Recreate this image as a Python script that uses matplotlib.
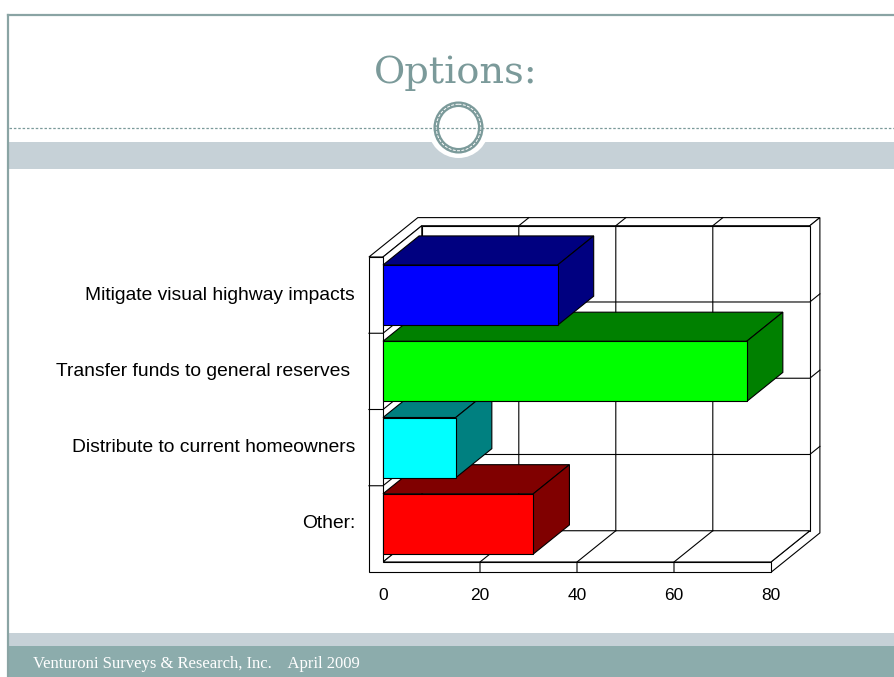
import numpy as np
import matplotlib.pyplot as plt
from matplotlib.patches import Polygon, Ellipse, Circle, Rectangle

# dados do grafico (de baixo para cima)
categorias = ['Other:', 'Distribute to current homeowners',
              'Transfer funds to general reserves ', 'Mitigate visual highway impacts']
valores = [31, 15, 75, 36]
cor_frente = ['#ff0000', '#00ffff', '#00ff00', '#0000ff']
cor_lado = ['#800000', '#008080', '#008000', '#000080']
ticks_x = [0, 20, 40, 60, 80]

titulo = 'Options:'
rodape = 'Venturoni Surveys & Research, Inc.    April 2009'

TEAL = '#7b9a9a'

fig = plt.figure(figsize=(8.95, 6.77), dpi=100)

# fundo do slide, em pixels
bg = fig.add_axes([0, 0, 1, 1], zorder=0)
bg.set_xlim(0, 895)
bg.set_ylim(677, 0)
bg.axis('off')
bg.plot([8, 895], [15, 15], color='#8aa4a4', lw=1.6)
bg.plot([8, 8], [15, 677], color='#8aa4a4', lw=1.6)
bg.add_patch(Rectangle((9, 142), 886, 27, color='#c6d1d7', lw=0))
bg.add_patch(Rectangle((9, 633), 886, 13, color='#c6d1d7', lw=0))
bg.add_patch(Rectangle((9, 646), 886, 31, color='#8cacac', lw=0))
bg.plot([9, 895], [128, 128], color=TEAL, lw=0.9, ls=(0, (2, 1.5)))
bg.add_patch(Circle((458.5, 127.5), 30.5, color='white', lw=0))
bg.add_patch(Ellipse((458.5, 127.5), 44.5, 46.5, fill=False, ec=TEAL, lw=4))
bg.add_patch(Ellipse((458.5, 127.5), 44.5, 46.5, fill=False, ec='white', lw=0.7,
                     ls=(0, (3, 1.5))))
bg.text(456, 83, titulo, ha='center', va='baseline', fontsize=27.5,
        family='DejaVu Serif', color=TEAL)
bg.text(33, 664, rodape, ha='left', va='center', fontsize=12,
        family='Liberation Serif', color='white')

# area do grafico: x = valor, y = categoria
ax = fig.add_axes([383/895, (677-562)/677, 388/895, 305/677], zorder=1)
ax.set_xlim(0, 80)
ax.set_ylim(0, 4)
ax.axis('off')

PX, PY = 8.0, 0.41      # deslocamento da profundidade
W, F, T = 2.9, 0.135, 0.26  # espessura das paredes
ZB = 0.93               # profundidade das barras
XM, YM = 80, 4


def p(x, y, z):
    return (x + PX*z, y + PY*z)


def face(pts, cor, z=1):
    ax.add_patch(Polygon([p(*q) for q in pts], closed=True, facecolor=cor,
                         edgecolor='black', lw=0.8, zorder=z, clip_on=False))


def linha(pts, z=2):
    xy = np.array([p(*q) for q in pts])
    ax.plot(xy[:, 0], xy[:, 1], color='black', lw=0.8, zorder=z, clip_on=False)


# paredes
face([(-W, YM, 0), (0, YM, 0), (0, YM, 1), (XM, YM, 1), (XM, YM, 1+T), (-W, YM, 1+T)], 'white')
face([(XM, -F, 0), (XM, 0, 0), (XM, 0, 1), (XM, YM, 1), (XM, YM, 1+T), (XM, -F, 1+T)], 'white')
face([(0, 0, 1), (XM, 0, 1), (XM, YM, 1), (0, YM, 1)], 'white')
face([(0, 0, 0), (0, 0, 1), (0, YM, 1), (0, YM, 0)], 'white')
face([(0, 0, 0), (XM, 0, 0), (XM, 0, 1), (0, 0, 1)], 'white')
face([(-W, -F, 0), (XM, -F, 0), (XM, 0, 0), (0, 0, 0), (0, YM, 0), (-W, YM, 0)], 'white')

# linhas de grade
for xv in ticks_x[1:-1]:
    linha([(xv, 0, 1), (xv, YM, 1), (xv, YM, 1+T)])
    linha([(xv, -F, 0), (xv, 0, 0), (xv, 0, 1)])
for yv in range(1, YM):
    linha([(-W, yv, 0), (0, yv, 0), (0, yv, 1), (XM, yv, 1), (XM, yv, 1+T)])

# barras 3D
h = 0.79
for i, v in enumerate(valores):
    y0 = i + 0.5 - h/2
    y1 = y0 + h
    zz = 3 + i
    face([(0, y1, 0), (v, y1, 0), (v, y1, ZB), (0, y1, ZB)], cor_lado[i], zz)
    face([(v, y0, 0), (v, y0, ZB), (v, y1, ZB), (v, y1, 0)], cor_lado[i], zz)
    face([(0, y0, 0), (v, y0, 0), (v, y1, 0), (0, y1, 0)], cor_frente[i], zz)

# rotulos
for xv in ticks_x:
    ax.annotate(str(xv), (xv, -F), xytext=(0, -16.5), textcoords='offset points',
                ha='center', va='center', fontsize=12.5, family='Liberation Sans',
                annotation_clip=False)
for i, c in enumerate(categorias):
    ax.annotate(c, (-W, i + 0.5), xytext=(-10, 0), textcoords='offset points',
                ha='right', va='center', fontsize=13.9, family='Liberation Sans',
                annotation_clip=False)

fig.savefig('out.png', dpi=100)
